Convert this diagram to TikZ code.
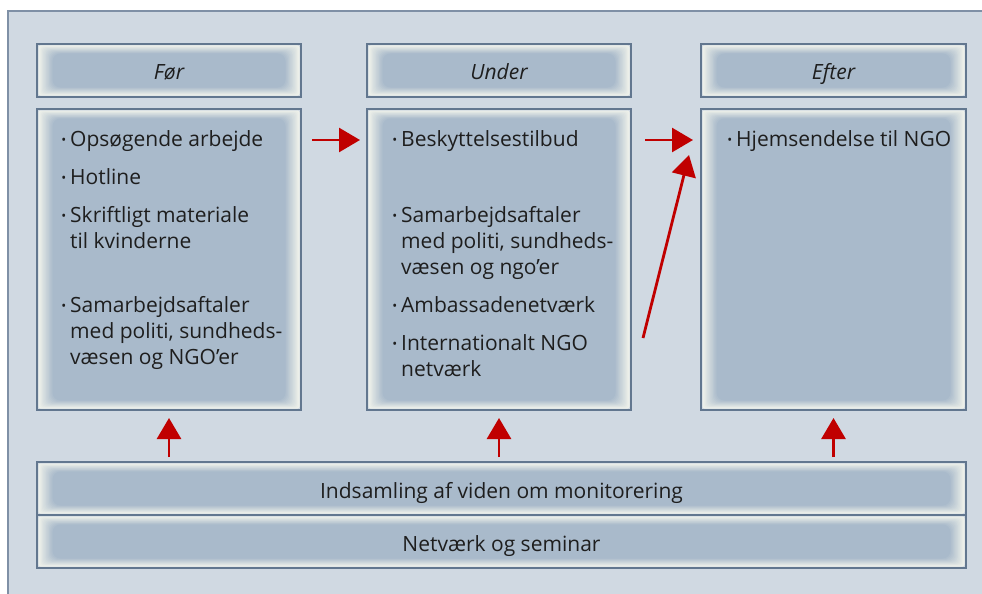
\documentclass[tikz,border=0pt]{standalone}
\usepackage{fontspec}
\setmainfont{Open Sans}
\usetikzlibrary{arrows.meta,calc}
\definecolor{framefill}{HTML}{D0D9E2}
\definecolor{framedraw}{HTML}{7F90A6}
\definecolor{boxborder}{HTML}{62778F}
\definecolor{boxedge}{HTML}{EEF1EA}
\definecolor{boxmid}{HTML}{A9BACB}
\definecolor{textcol}{HTML}{1E1E1E}
\definecolor{arrowred}{HTML}{C00000}
\pgfdeclarelayer{frame}
\pgfdeclarelayer{blur}
\pgfsetlayers{frame,blur,main}
\newcommand\blurbox[1]{%
  \begin{pgfonlayer}{blur}
  \foreach \k in {0,...,12}{%
    \pgfmathsetmacro\tt{\k/12}%
    \pgfmathtruncatemacro\pp{\k*100/12}%
    \fill[boxmid!\pp!boxedge, rounded corners=2+6*\tt]
      ($(#1.north west)+(1.5+14*\tt,1.5+8*\tt)$) rectangle
      ($(#1.south east)+(-1.5-14*\tt,-1.5-8*\tt)$);
  }
  \end{pgfonlayer}}
\newcommand\bul{\llap{{\fontsize{13}{13}\selectfont\raisebox{1.5pt}{•}}\hspace{4pt}}}
\tikzset{
  boxS/.style={draw=boxborder, line width=1.1pt, inner sep=0pt, outer sep=0pt,
    anchor=north west, text=textcol, font=\fontsize{21}{24}\selectfont,
    text height=21pt, text depth=2pt},
  txt/.style={anchor=base west, inner sep=0pt, text=textcol, font=\fontsize{21}{24}\selectfont},
  redarr/.style={draw=arrowred, line width=2.8pt, -{Triangle[length=21pt,width=24pt]}, arrowred}
}
\begin{document}
\begin{tikzpicture}[x=1pt,y=-1pt]
\useasboundingbox (0,0) rectangle (982,594);
\begin{pgfonlayer}{frame}
\fill[white] (0,0) rectangle (982,594);
\draw[framedraw, fill=framefill, line width=1.1pt] (8,11) rectangle (995,610);
\end{pgfonlayer}
% header boxes
\node[boxS, minimum width=264pt, minimum height=53pt] (h1) at (37,44) {\itshape Før};
\node[boxS, minimum width=264pt, minimum height=53pt] (h2) at (367,44) {\itshape Under};
\node[boxS, minimum width=265pt, minimum height=53pt] (h3) at (701,44) {\itshape Efter};
% content boxes
\node[boxS, minimum width=264pt, minimum height=301pt] (c1) at (37,109) {};
\node[boxS, minimum width=264pt, minimum height=301pt] (c2) at (367,109) {};
\node[boxS, minimum width=265pt, minimum height=301pt] (c3) at (701,109) {};
% bottom boxes
\node[boxS, minimum width=929pt, minimum height=53pt] (b1) at (37,462) {Indsamling af viden om monitorering};
\node[boxS, minimum width=929pt, minimum height=53pt] (b2) at (37,515) {Netværk og seminar};
\foreach \n in {h1,h2,h3,c1,c2,c3,b1,b2}{\blurbox{\n}}
% column 1 text
\node[txt] (t11) at (70,146) {\bul Opsøgende arbejde};
\node[txt] (t12) at (70,184) {\bul Hotline};
\node[txt] (t13) at (70,222) {\bul Skriftligt materiale};
\node[txt] (t14) at (70,248) {til kvinderne};
\node[txt] (t15) at (70,312) {\bul Samarbejdsaftaler};
\node[txt] (t16) at (70,338) {med politi, sundheds-};
\node[txt] (t17) at (70,364) {væsen og NGO’er};
% column 2 text
\node[txt] (t21) at (401,146) {\bul Beskyttelsestilbud};
\node[txt] (t22) at (401,222) {\bul Samarbejdsaftaler};
\node[txt] (t23) at (401,248) {med politi, sundheds-};
\node[txt] (t24) at (401,274) {væsen og ngo’er};
\node[txt] (t25) at (401,312) {\bul Ambassadenetværk};
\node[txt] (t26) at (401,350) {\bul Internationalt NGO};
\node[txt] (t27) at (401,376) {netværk};
% column 3 text
\node[txt] (t31) at (736,146) {\bul Hjemsendelse til NGO};
% arrows
\draw[redarr] ($(c1.north east)+(11,31)$) -- ($(c2.north west)+(-7,31)$);
\draw[redarr] ($(c2.north east)+(14,31)$) -- ($(c3.north west)+(-8,31)$);
\draw[redarr] ($(c2.north east)+(12,229)$) -- ($(c3.north west)+(-12,46)$);
\draw[redarr] ($(c1.south |- b1.north)+(0,-5)$) -- ($(c1.south)+(0,8)$);
\draw[redarr] ($(c2.south |- b1.north)+(0,-5)$) -- ($(c2.south)+(0,8)$);
\draw[redarr] ($(c3.south |- b1.north)+(0,-5)$) -- ($(c3.south)+(0,8)$);
\end{tikzpicture}
\end{document}
